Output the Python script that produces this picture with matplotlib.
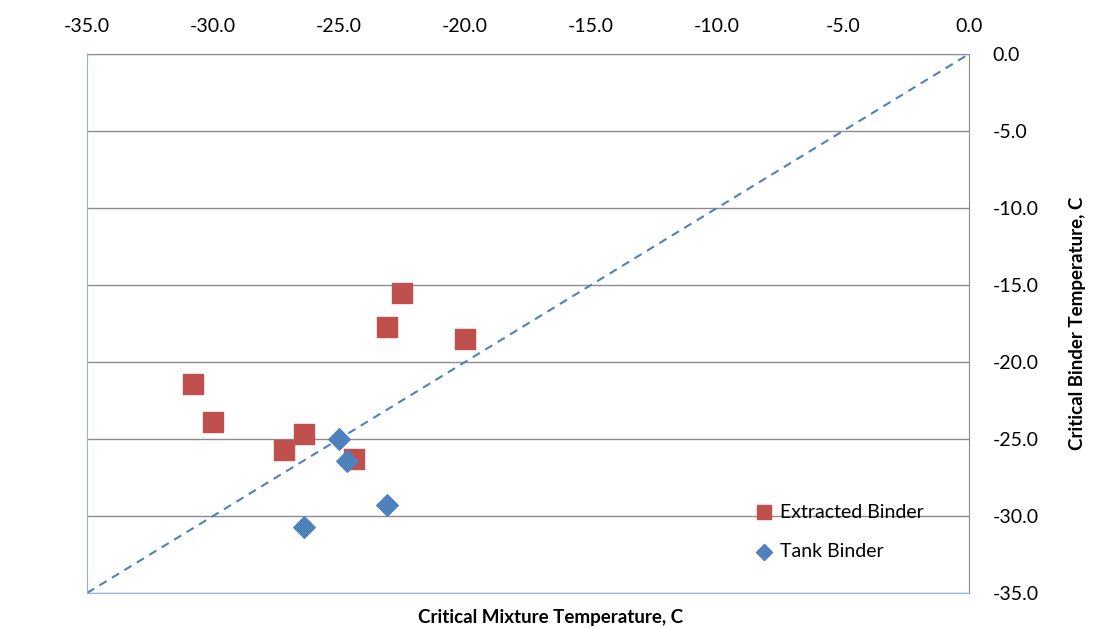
import numpy as np
from matplotlib import pyplot as plt

# Values
extracted_mix = [-30.8, -30.0, -27.2, -26.4, -24.4, -23.1, -22.5, -20.0]
extracted_binder = [-21.4, -23.9, -25.7, -24.7, -26.3, -17.7, -15.5, -18.5]
tank_mix = [-25.0, -24.7, -23.1, -26.4]
tank_binder = [-25.0, -26.4, -29.3, -30.7]
ticks = [-35.0, -30.0, -25.0, -20.0, -15.0, -10.0, -5.0, 0.0]

plt.rcParams["font.family"] = ["Lato", "DejaVu Sans"]

fig = plt.figure(figsize=(11.07, 6.28), dpi=100)
ax = fig.add_axes([0.0786, 0.0557, 0.7967, 0.8583])

# horizontal gridlines
for t in ticks:
    ax.axhline(t, color="#8c8c8c", linewidth=1.0, zorder=1)

# line of equality
ax.plot([-35, 0], [-35, 0], linestyle=(0, (4, 3)), color="#4f81bd",
        linewidth=1.5, zorder=2)

ax.scatter(extracted_mix, extracted_binder, marker="s", s=190,
           color="#c0504d", label="Extracted Binder", zorder=3)
ax.scatter(tank_mix, tank_binder, marker="D", s=120,
           color="#4f81bd", label="Tank Binder", zorder=4)

ax.set_xlim(-35, 0)
ax.set_ylim(-35, 0)
ax.set_xticks(ticks)
ax.set_yticks(ticks)
ax.set_xticklabels([f"{t:.1f}" for t in ticks])
ax.set_yticklabels([f"{t:.1f}" for t in ticks])
ax.xaxis.tick_top()
ax.yaxis.tick_right()
ax.tick_params(axis="both", length=0, labelsize=14, colors="black")
ax.tick_params(axis="x", pad=14)
ax.tick_params(axis="y", pad=17)

for side in ["top", "right"]:
    ax.spines[side].set_color("#8c8c8c")
for side in ["left", "bottom"]:
    ax.spines[side].set_color("#8eb4e3")

fig.text(0.497, 0.0175, "Critical Mixture Temperature, C", ha="center",
         va="center", fontsize=13.5, fontweight="bold")
fig.text(0.973, 0.485, "Critical Binder Temperature, C", ha="center",
         va="center", rotation=90, fontsize=13.5, fontweight="bold")

ax.legend(loc="upper left", bbox_to_anchor=(0.757, 0.166), frameon=False,
          fontsize=14, handlelength=1.0, handletextpad=0.3, labelspacing=1.15,
          markerscale=0.75, borderaxespad=0, borderpad=0)

fig.savefig("out.png", dpi=100)
